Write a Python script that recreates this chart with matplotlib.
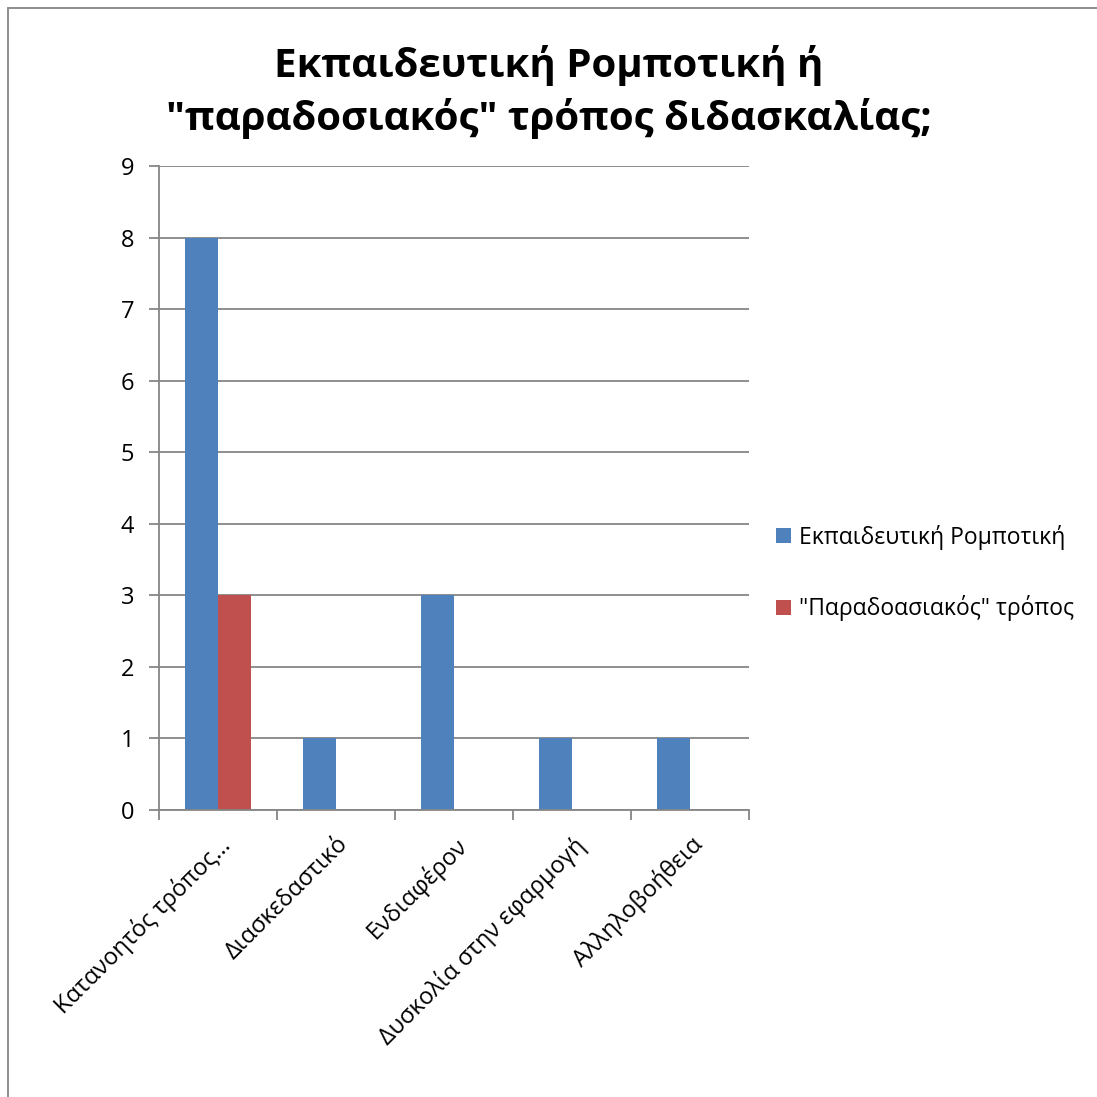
import matplotlib
matplotlib.use('Agg')
import matplotlib.pyplot as plt
import numpy as np
from matplotlib.patches import Rectangle

# δεδομένα
categories = ["Κατανοητός τρόπος…", "Διασκεδαστικό", "Ενδιαφέρον",
              "Δυσκολία στην εφαρμογή", "Αλληλοβοήθεια"]
robotics = [8, 1, 3, 1, 1]
traditional = [3, 0, 0, 0, 0]
series_names = ["Εκπαιδευτική Ρομποτική", "\"Παραδοασιακός\" τρόπος"]
title = "Εκπαιδευτική Ρομποτική ή\n\"παραδοσιακός\" τρόπος διδασκαλίας;"

plt.rcParams['font.family'] = ['Open Sans', 'DejaVu Sans']

fig = plt.figure(figsize=(10.97, 10.97), dpi=100)
ax = fig.add_axes([0.145, 0.2616, 0.538, 0.5871])

x = np.arange(len(categories))
w = 0.28
ax.bar(x - w / 2, robotics, w, color='#4f81bd', label=series_names[0])
ax.bar(x + w / 2, traditional, w, color='#c0504d', label=series_names[1])

ax.set_xlim(-0.5, len(categories) - 0.5)
ax.set_ylim(0, 9)
ax.set_yticks(range(10))
ax.yaxis.grid(True, color='#868686', linewidth=1.3)
ax.set_axisbelow(True)
for s in ['top', 'right']:
    ax.spines[s].set_visible(False)
for s in ['left', 'bottom']:
    ax.spines[s].set_color('#868686')
    ax.spines[s].set_linewidth(1.3)

ax.set_xticks(np.arange(-0.5, len(categories)), minor=False)
ax.set_xticklabels([])
ax.set_xticks(x, minor=True)
ax.set_xticklabels(categories, minor=True, rotation=45, ha='right',
                   va='top', rotation_mode='anchor', fontsize=17)
ax.tick_params(axis='x', which='major', length=7, color='#868686', width=1.3)
ax.tick_params(axis='x', which='minor', length=0, pad=16)
ax.tick_params(axis='y', length=7, color='#868686', width=1.3,
               labelsize=17, pad=11)

fig.text(0.5, 0.916, title, fontsize=29, fontweight='bold',
         ha='center', va='center', linespacing=1.38, multialignment='center')

ax.legend(loc='center left', bbox_to_anchor=(1.03, 0.368), frameon=False,
          fontsize=16.5, handlelength=0.65, handleheight=0.65,
          handletextpad=0.35, labelspacing=2.0, borderaxespad=0)

fig.patches.append(Rectangle((8 / 1097, -0.1), 1.2, 1 - 8 / 1097 + 0.1,
                             transform=fig.transFigure, fill=False,
                             edgecolor='#868686', linewidth=1.3))

fig.savefig('out.png', dpi=100)
